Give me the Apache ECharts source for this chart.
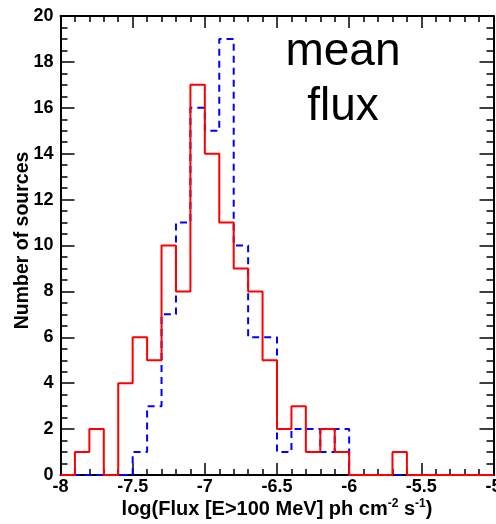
<!DOCTYPE html>
<html>
<head>
<meta charset="utf-8">
<style>
  html, body { margin: 0; padding: 0; background: #ffffff; }
  #chart { width: 496px; height: 524px; }
</style>
<script src="https://cdn.jsdelivr.net/npm/echarts@6/dist/echarts.min.js"></script>
</head>
<body>
<div id="chart"></div>
<script>
// Histogram bin edges of log10(flux), 0.1 wide, from -8 to -5
const binEdges = [
  -8.0, -7.9, -7.8, -7.7, -7.6, -7.5, -7.4, -7.3, -7.2, -7.1,
  -7.0, -6.9, -6.8, -6.7, -6.6, -6.5, -6.4, -6.3, -6.2, -6.1,
  -6.0, -5.9, -5.8, -5.7, -5.6, -5.5, -5.4, -5.3, -5.2, -5.1, -5.0
];

// Source counts per bin (solid red histogram)
const countsSolid = [
  0, 1, 2, 0, 4, 6, 5, 10, 8, 17,
  14, 11, 9, 8, 5, 2, 3, 1, 2, 1,
  0, 0, 0, 1, 0, 0, 0, 0, 0, 0
];

// Source counts per bin (dashed blue histogram)
const countsDashed = [
  0, 0, 0, 0, 0, 1, 3, 7, 11, 16,
  15, 19, 10, 6, 6, 1, 2, 2, 1, 2,
  0, 0, 0, 0, 0, 0, 0, 0, 0, 0
];

// Axis tick settings
const xTicks = { min: -8, max: -5, step: 0.5, minorSplit: 5 };
const yTicks = { min: 0, max: 20, step: 2, minorSplit: 4 };

// Step outline points: one per edge, last edge repeats the last bin's count
function stepPoints(counts) {
  return binEdges.map((e, i) => [e, counts[Math.min(i, counts.length - 1)]]);
}

const FONT = '"Liberation Sans", Arial, Helvetica, sans-serif';
const frameLine = { show: true, onZero: false, lineStyle: { color: '#000', width: 2 } };

function xAxisDef(pos, labels) {
  return {
    type: 'value', position: pos,
    min: xTicks.min, max: xTicks.max, interval: xTicks.step,
    axisLine: frameLine,
    axisTick: { show: true, inside: true, length: 12, lineStyle: { color: '#000', width: 1.5 } },
    minorTick: { show: true, splitNumber: xTicks.minorSplit, length: 6, lineStyle: { color: '#000', width: 1.5 } },
    splitLine: { show: false },
    axisLabel: labels ? {
      show: true, color: '#000', fontFamily: FONT, fontWeight: 'bold', fontSize: 18, margin: 3
    } : { show: false }
  };
}

function yAxisDef(pos, labels) {
  return {
    type: 'value', position: pos,
    min: yTicks.min, max: yTicks.max, interval: yTicks.step,
    axisLine: frameLine,
    axisTick: { show: true, inside: true, length: 14, lineStyle: { color: '#000', width: 1.5 } },
    minorTick: { show: true, splitNumber: yTicks.minorSplit, length: 7, lineStyle: { color: '#000', width: 1.5 } },
    splitLine: { show: false },
    axisLabel: labels ? {
      show: true, color: '#000', fontFamily: FONT, fontWeight: 'bold', fontSize: 18, margin: 7
    } : { show: false }
  };
}

const xMain = xAxisDef('bottom', true);
xMain.name = '{t|log(Flux [E>100 MeV] ph cm}{s|-2}{t| s}{s|-1}{t|)}';
xMain.nameLocation = 'middle';
xMain.nameGap = 23;
xMain.nameMoveOverlap = false;
xMain.nameTextStyle = {
  color: '#000', fontFamily: FONT, fontWeight: 'bold', fontSize: 20,
  rich: {
    t: { color: '#000', fontFamily: FONT, fontWeight: 'bold', fontSize: 20, lineHeight: 22 },
    s: { color: '#000', fontFamily: FONT, fontWeight: 'bold', fontSize: 12, lineHeight: 12, verticalAlign: 'top' }
  }
};

const yMain = yAxisDef('left', true);
yMain.name = 'Number of sources';
yMain.nameLocation = 'middle';
yMain.nameRotate = 90;
yMain.nameGap = 28;
yMain.nameMoveOverlap = false;
yMain.nameTextStyle = {
  color: '#000', fontFamily: FONT, fontWeight: 'bold', fontSize: 19.5,
  padding: [0, 0, 0, 10]
};

const chart = echarts.init(document.getElementById('chart'), null, { renderer: 'canvas' });
chart.setOption({
  backgroundColor: '#ffffff',
  animation: false,
  grid: { left: 60.5, right: 2.5, top: 16, bottom: 49, containLabel: false, outerBoundsMode: 'none' },
  xAxis: [xMain, xAxisDef('top', false)],
  yAxis: [yMain, yAxisDef('right', false)],
  series: [
    {
      type: 'line', step: 'end', xAxisIndex: 0, yAxisIndex: 0,
      data: stepPoints(countsDashed),
      symbol: 'none', z: 3,
      lineStyle: { color: '#0000ff', width: 2, type: [7, 5] }
    },
    {
      type: 'line', step: 'end', xAxisIndex: 0, yAxisIndex: 0,
      data: stepPoints(countsSolid),
      symbol: 'none', z: 4,
      lineStyle: { color: '#ff0000', width: 2 }
    }
  ],
  graphic: [{
    type: 'text', x: 343, y: 25, z: 10,
    style: {
      text: 'mean\nflux', fill: '#000',
      font: '46px ' + FONT, textAlign: 'center', textVerticalAlign: 'top', lineHeight: 55
    }
  }]
});
</script>
</body>
</html>
